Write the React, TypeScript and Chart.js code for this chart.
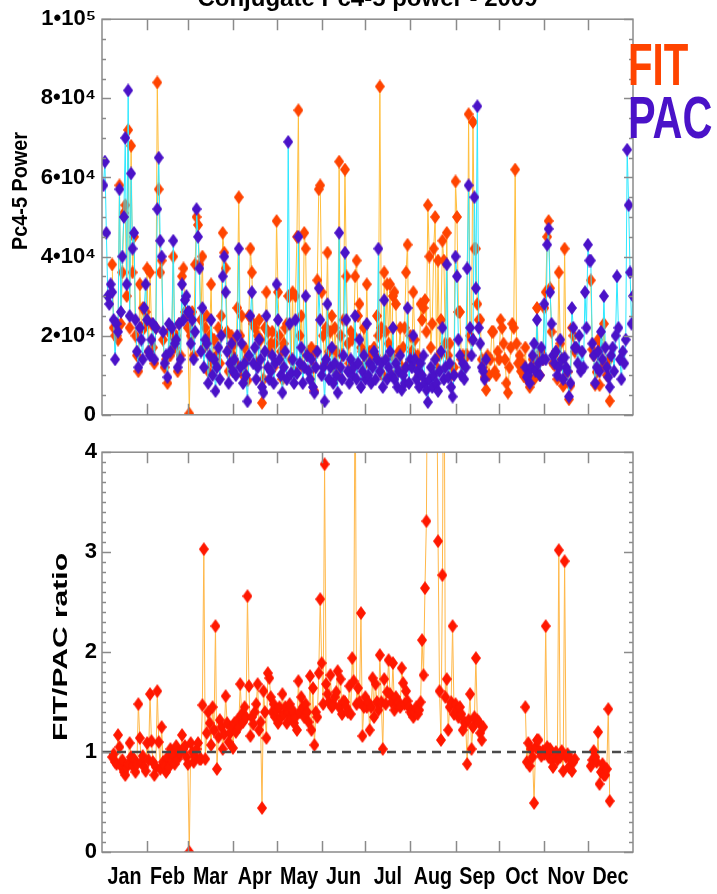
import React, { useEffect, useRef } from "react";
import { Chart, registerables } from "chart.js";

Chart.register(...registerables);

// ---------- categories / ticks ----------
const MONTHS = ["Jan", "Feb", "Mar", "Apr", "May", "Jun", "Jul", "Aug", "Sep", "Oct", "Nov", "Dec"];
const MONTH_STARTS = [0, 31, 59, 90, 120, 151, 181, 212, 243, 273, 304, 334, 365];
const POWER_TICKS = [0, 20000, 40000, 60000, 80000, 100000];
const RATIO_TICKS = [0, 1, 2, 3, 4];
const TITLE = "Conjugate Pc4-5 power - 2009";

const n = null;

// ---------- PAC Pc4-5 power, daily, in units of 1e3 (day 1..365) ----------
const PAC_K: (number | null)[] = [
  58, 64, 46, 30, 28, 33, 31, 24, 14, 23, 21, 57, 26, 40, 50, 70, 33, 82, 25, 61, 42, 46, 24, 16, 12, 22, 19, 14, 27, 33, 24, // Jan
  16, 15, 19, 23, 14, 22, 52, 65, 44, 40, 21, 13, 15, 9.5, 23, 16, 22, 44, 18, 19, 12, 23, 14, 33, 24, 29, 30, 26, // Feb
  26, 18, 24, 14, 21, 52, 45, 37, 16, 27, 12, 19, 18, 8, 15, 24, 10, 14, 6, 12, 17, 9, 20, 35, 40, 31, 16, 8, 13, 18, 11, // Mar
  14, 10, 20, 42, 12, 18, 8, 13, 10, 3.4, 15, 25, 31, 13, 17, 9, 12, 19, 14, 7, 5.6, 16, 25, 12, 9, 11, 15, 8, 13, 33, // Apr
  24, 14, 10, 5.6, 12, 16, 9, 69, 23, 10.5, 14, 8, 24, 10.5, 45, 13, 17, 8, 12, 30, 15, 11, 9, 14, 7, 5.6, 12, 16, 32, 24, 10, // May
  12, 3.4, 14, 28, 9, 12, 17, 8, 13, 10, 5.6, 46, 12, 9, 15, 41, 24, 11, 8, 14, 10, 12, 25, 9, 13, 19, 7, 11, 15, 9, // Jun
  23, 10, 13, 8, 12, 16, 9, 14, 42, 11, 13, 7, 29, 14, 9, 12, 16, 10, 22, 9, 13, 7, 11, 15, 6.3, 10, 8, 12, 27, 8, 14, // Jul
  12, 20, 14, 9, 11, 7, 13, 10, 15, 8, 6.3, 3.2, 9, 12, 7, 10, 14, 8, 6, 11, 16, 22, 9, 12, 38, 9.5, 13, 7, 4.6, 10, 40, // Aug
  35, 19, 15, 10, 13, 9, 12, 37, 58, 22, 15, 19, 55, 32, 78, 22, 18, 12, 11, 9, 14, n, n, n, n, n, n, n, n, n, // Sep
  n, n, n, n, n, n, n, n, n, n, n, n, n, n, n, n, n, 12, 9.5, 10, 8, 12, 15, 18, 11, 24, 13, 10, 17, 14, 28, // Oct
  14, 43, 47, 31, 23, 15, 13, 16, 10, 12, 19, 14, 9, 14.5, 12, 11, 4.6, 8, 27, 22, 17, 17, 13, 20, 11, 16, 12, 31, 22, 43, // Nov
  39, 39, 18, 15, 8, 12, 16, 11, 21, 14, 30, 17, 12, 9.5, 7, 15, 17, 11, 20, 35, 22, 14, 9, 16, 13, 19, 67, 53, 36, 23, 30, // Dec
];

// ---------- FIT Pc4-5 power, daily, in units of 1e3 ----------
const FIT_K: (number | null)[] = [
  n, n, n, n, n, n, 38, 22, 20, 20, 19, 58, 23, 36, 51, 53, 30, 72, 22, 68, 36, 45, 20, 15, 11, 33, 22, 27, 22, 26, 37, // Jan
  16, 36, 23, 17, 13, 22, 84, 57, 36, 39, 19, 12, 14, 8, 21, 15, 20, 40, 17, 20, 11, 23, 15, 35, 37, 26, 25, 22, // Feb
  0.3, 20, 26, 15, 38, 50, 48, 38, 24, 40, 17, 22, 25, 11, 20, 33, 13, 19, 14, 15, 22, 13, 25, 46, 41, 37, 21, 11, 17, 20, 15, // Mar
  18, 13, 27, 55, 20, 25, 10, 17, 14, 8.7, 25, 42, 36, 23, 22, 13, 20, 24, 19, 3, 9, 22, 31, 21, 16, 18, 21, 12, 18, 49, // Apr
  31, 20, 16, 9, 18, 22, 23, 30, 30, 14, 31, 11, 30, 45, 77, 20, 25, 12, 46, 42, 15, 16, 15, 17, 12, 6, 16, 34, 57, 58, 31, // May
  20, 13, 22, 41, 16, 21, 25, 12, 22, 16, 10, 64, 20, 15, 24, 62, 35, 18, 13, 21, 19, 20, 35, 39, 25, 28, 17, 16, 22, 13, // Jun
  33, 15, 16, 14, 16, 17, 15, 25, 20, 83, 22, 10, 36, 21, 33, 18, 33, 15, 30, 31, 28, 11, 16, 22, 12, 17, 22, 36, 43, 13, 20, // Jul
  16, 31, 19, 13, 15, 10, 28, 24, 27, 29, 21, 53, 40, 17, 23, 42, 50, 12, 39, 15, 24, 44, 39, 18, 46, 15, 18, 10, 10.5, 12, 59, // Aug
  50, 26, 26, 14, 15, 12, 15, 15, 76, 20, 19, 74, 42, 42, 28, 24, 24, 14, 12, 9.5, 6.3, 15, 10, 14, 21, 21, 11, 10, 16, 14, // Sep
  24, 22, 18, 14, 8, 5.6, 12, 17, 23, 22, 62, 18, 13, 15, 11, 13, 9.7, 17, 9, 11, 7, 12, 14, 9, 12, 27, 14, 10, 16, 14, 27, // Oct
  31, 45, 49, 32, 21, 13, 12.5, 16, 9, 36, 18, 14, 7.3, 42, 11.4, 10.8, 3.9, 7.4, 22, 20, 16, n, n, n, n, n, n, n, n, n, // Nov
  n, 34, 16.5, 15, 7.6, 10.8, 19, 7.5, 17, 12.3, 23, 13, 10, 13.6, 3.5, n, n, n, n, n, n, n, n, n, n, n, n, n, n, n, n, // Dec
];

// ---------- FIT/PAC ratio, daily ----------
const RATIO: (number | null)[] = [
  n, n, n, n, n, n, 0.95, 0.98, 0.9, 0.88, 1.17, 1.05, 0.86, 0.92, 0.8, 0.77, 0.85, 0.88, 1.09, 0.95, 0.86, 0.93, 0.8, 0.88, 1.48, 1.14, 0.9, 0.96, 0.85, 0.81, 1.09, // Jan
  0.92, 1.58, 1.11, 0.9, 0.77, 0.85, 1.61, 1.1, 0.83, 1.25, 0.9, 0.86, 0.8, 0.95, 0.85, 1.03, 0.92, 0.98, 0.88, 1.06, 0.93, 1.0, 0.99, 1.17, 1.03, 1.06, 0.95, 0.88, // Feb
  0.0, 1.09, 1.0, 0.9, 0.95, 1.03, 1.09, 0.93, 0.93, 1.47, 3.03, 0.93, 1.19, 1.4, 1.29, 1.07, 1.45, 1.22, 2.26, 0.83, 1.15, 1.32, 1.25, 1.03, 1.18, 1.56, 1.29, 1.1, 1.19, 1.25, 1.04, // Mar
  1.29, 1.2, 1.32, 1.25, 1.68, 1.38, 1.3, 1.45, 1.35, 2.56, 1.66, 1.16, 1.35, 1.28, 1.4, 1.48, 1.68, 1.22, 1.3, 0.44, 1.61, 1.4, 1.14, 1.79, 1.74, 1.55, 1.4, 1.48, 1.35, 1.42, // Apr
  1.29, 1.45, 1.35, 1.58, 1.38, 1.45, 1.29, 1.4, 1.48, 1.35, 1.42, 1.29, 1.35, 1.22, 1.71, 1.4, 1.55, 1.45, 1.35, 1.48, 1.4, 1.3, 1.76, 1.22, 1.64, 1.07, 1.4, 1.35, 1.79, 2.53, 1.89, // May
  1.48, 3.88, 1.68, 1.58, 1.5, 1.77, 1.45, 1.48, 1.55, 1.6, 1.81, 1.45, 1.73, 1.38, 1.51, 1.5, 1.45, 1.4, 1.66, 1.38, 1.94, 1.71, 5.0, 1.48, 1.64, 1.5, 2.39, 1.16, 1.45, 1.55, // Jun
  1.45, 1.5, 1.22, 1.45, 1.74, 1.35, 1.68, 1.5, 1.42, 1.97, 1.5, 1.03, 1.73, 1.48, 1.6, 1.92, 1.58, 1.5, 1.89, 1.42, 1.55, 1.48, 1.5, 1.45, 1.84, 1.69, 1.48, 1.61, 1.51, 1.45, 1.4, // Jul
  1.38, 1.35, 1.4, 1.45, 1.38, 1.42, 1.5, 2.12, 1.77, 2.64, 3.31, 6.0, 8.0, 5.5, 7.0, 9.0, 6.5, 5.0, 3.11, 1.61, 1.12, 2.77, 6.0, 1.55, 1.73, 1.22, 1.45, 1.5, 2.26, 1.38, 1.48, // Aug
  1.42, 1.35, 1.45, 1.38, 1.22, 1.3, 1.29, 0.88, 1.32, 1.58, 1.03, 1.25, 1.35, 1.94, 1.32, 1.3, 1.19, 1.12, 1.25, n, n, n, n, n, n, n, n, n, n, n, // Sep
  n, n, n, n, n, n, n, n, n, n, n, n, n, n, n, n, n, 1.45, 0.9, 1.09, 0.86, 1.03, 0.95, 0.49, 1.05, 1.12, 1.12, 1.0, 0.96, 1.01, 0.98, // Oct
  2.26, 1.05, 0.95, 1.03, 0.92, 0.85, 0.96, 1.0, 0.92, 3.02, 0.95, 1.01, 0.81, 2.91, 0.95, 0.98, 0.85, 0.93, 0.81, 0.9, 0.93, n, n, n, n, n, n, n, n, n, // Nov
  n, 0.86, 0.92, 1.01, 0.95, 0.9, 1.2, 0.68, 0.8, 0.88, 0.77, 0.77, 0.83, 1.43, 0.51, n, n, n, n, n, n, n, n, n, n, n, n, n, n, n, n, // Dec
];

// ---------- styles ----------
const FONT = "'Liberation Sans', Arial, Helvetica, sans-serif";
const FIT_COLOR = "#ff4400";
const PAC_COLOR = "#4a12c8";
const RATIO_COLOR = "#ff1800";
const FIT_LINE = "#ffbe3c";
const PAC_LINE = "#2ee8ff";
const RATIO_LINE = "#ffb84a";
const FRAME = "#8a8a8a";

function diamond(color: string, w = 10, h = 14): HTMLCanvasElement {
  const c = document.createElement("canvas");
  c.width = w;
  c.height = h;
  const ctx = c.getContext("2d")!;
  ctx.fillStyle = color;
  ctx.beginPath();
  ctx.moveTo(w / 2, 0);
  ctx.lineTo(w, h / 2);
  ctx.lineTo(w / 2, h);
  ctx.lineTo(0, h / 2);
  ctx.closePath();
  ctx.fill();
  return c;
}

function toPoints(vals: (number | null)[], mult: number) {
  return vals.map((v, i) => ({ x: i + 1, y: v === null ? null : v * mult }));
}

function powerLabel(v: number): string {
  if (v === 0) return "0";
  if (v === 100000) return "1\u202210\u2075";
  return `${v / 10000}\u202210\u2074`;
}

function drawFrame(chart: any, majors: number[], minorStep: number) {
  const { ctx, chartArea: a, scales } = chart;
  const xs = scales.x;
  const ys = scales.y;
  ctx.save();
  ctx.strokeStyle = FRAME;
  ctx.lineWidth = 1.5;
  ctx.strokeRect(a.left, a.top, a.right - a.left, a.bottom - a.top);
  ctx.beginPath();
  for (const d of MONTH_STARTS.slice(1, -1)) {
    const px = Math.round(xs.getPixelForValue(d)) + 0.5;
    ctx.moveTo(px, a.bottom);
    ctx.lineTo(px, a.bottom - 11);
    ctx.moveTo(px, a.top);
    ctx.lineTo(px, a.top + 11);
  }
  for (const v of majors) {
    const py = Math.round(ys.getPixelForValue(v)) + 0.5;
    ctx.moveTo(a.left, py);
    ctx.lineTo(a.left + 9, py);
    ctx.moveTo(a.right, py);
    ctx.lineTo(a.right - 9, py);
  }
  const lo = majors[0];
  const hi = majors[majors.length - 1];
  for (let v = lo; v <= hi + 1e-9; v += minorStep) {
    const py = Math.round(ys.getPixelForValue(v)) + 0.5;
    ctx.moveTo(a.left, py);
    ctx.lineTo(a.left + 4, py);
    ctx.moveTo(a.right, py);
    ctx.lineTo(a.right - 4, py);
  }
  ctx.stroke();
  ctx.restore();
}

function drawVText(ctx: CanvasRenderingContext2D, text: string, cx: number, cy: number, size: number, stretch: number) {
  ctx.save();
  ctx.translate(cx, cy);
  ctx.rotate(-Math.PI / 2);
  ctx.scale(stretch, 1);
  ctx.font = `bold ${size}px ${FONT}`;
  ctx.fillStyle = "#000";
  ctx.textAlign = "center";
  ctx.textBaseline = "middle";
  ctx.fillText(text, 0, 0);
  ctx.restore();
}

function drawWord(ctx: CanvasRenderingContext2D, text: string, x: number, y: number, color: string, sx: number) {
  ctx.save();
  ctx.translate(x, y);
  ctx.scale(sx, 1);
  ctx.font = `bold 60px ${FONT}`;
  ctx.fillStyle = color;
  ctx.textAlign = "left";
  ctx.textBaseline = "alphabetic";
  ctx.fillText(text, 0, 0);
  ctx.restore();
}

const topDecor = {
  id: "topDecor",
  afterDraw(chart: any) {
    const ctx = chart.ctx as CanvasRenderingContext2D;
    drawFrame(chart, POWER_TICKS, 5000);
    ctx.save();
    ctx.font = `bold 24px ${FONT}`;
    ctx.fillStyle = "#000";
    ctx.textAlign = "center";
    ctx.textBaseline = "alphabetic";
    const a = chart.chartArea;
    ctx.fillText(TITLE, (a.left + a.right) / 2, 6);
    ctx.restore();
    drawWord(ctx, "FIT", 628, 85, FIT_COLOR, 0.67);
    drawWord(ctx, "PAC", 628, 138, PAC_COLOR, 0.69);
    drawVText(ctx, "Pc4-5 Power", 21, 191, 22, 0.9);
  },
};

const bottomDecor = {
  id: "bottomDecor",
  afterDatasetsDraw(chart: any) {
    const { ctx, chartArea: a, scales } = chart;
    const py = scales.y.getPixelForValue(1);
    ctx.save();
    ctx.strokeStyle = "#4a4a4a";
    ctx.lineWidth = 2.5;
    ctx.setLineDash([9, 6]);
    ctx.beginPath();
    ctx.moveTo(a.left, py);
    ctx.lineTo(a.right, py);
    ctx.stroke();
    ctx.restore();
  },
  afterDraw(chart: any) {
    const ctx = chart.ctx as CanvasRenderingContext2D;
    const a = chart.chartArea;
    const xs = chart.scales.x;
    drawFrame(chart, RATIO_TICKS, 0.1);
    drawVText(ctx, "FIT/PAC ratio", 61, 213, 21, 1.43);
    // month labels, centred between month boundaries (condensed bold, as in the original)
    MONTHS.forEach((m, i) => {
      const cx = xs.getPixelForValue((MONTH_STARTS[i] + MONTH_STARTS[i + 1]) / 2);
      ctx.save();
      ctx.translate(cx, a.bottom + 25);
      ctx.scale(0.82, 1);
      ctx.font = `bold 24px ${FONT}`;
      ctx.fillStyle = "#000";
      ctx.textAlign = "center";
      ctx.textBaseline = "middle";
      ctx.fillText(m, 0, 0);
      ctx.restore();
    });
  },
};

export default function App() {
  const topRef = useRef<HTMLCanvasElement | null>(null);
  const botRef = useRef<HTMLCanvasElement | null>(null);

  useEffect(() => {
    const fitImg = diamond(FIT_COLOR);
    const pacImg = diamond(PAC_COLOR);
    const ratioImg = diamond(RATIO_COLOR);

    const top = new Chart(topRef.current!, {
      type: "line",
      data: {
        datasets: [
          {
            label: "PAC",
            data: toPoints(PAC_K, 1000) as any,
            borderColor: PAC_LINE,
            borderWidth: 1,
            pointStyle: pacImg as any,
            pointRadius: 5,
            pointHoverRadius: 5,
            order: 0,
            tension: 0,
          },
          {
            label: "FIT",
            data: toPoints(FIT_K, 1000) as any,
            borderColor: FIT_LINE,
            borderWidth: 1,
            pointStyle: fitImg as any,
            pointRadius: 5,
            pointHoverRadius: 5,
            order: 1,
            tension: 0,
          },
        ],
      },
      options: {
        animation: false,
        responsive: false,
        events: [],
        layout: { padding: { left: 0, right: 84, top: 15, bottom: 8 } },
        plugins: { legend: { display: false }, tooltip: { enabled: false }, title: { display: false } },
        scales: {
          x: { type: "linear", min: 0, max: 365, display: false },
          y: {
            type: "linear",
            min: 0,
            max: 100000,
            afterFit: (s: any) => {
              s.width = 102;
            },
            grid: { display: false, drawTicks: false },
            border: { display: false },
            ticks: {
              stepSize: 20000,
              padding: 6,
              color: "#000",
              font: { family: FONT, size: 22, weight: "bold" },
              callback: (v: any) => powerLabel(Number(v)),
            },
          },
        },
      } as any,
      plugins: [topDecor],
    });

    const bottom = new Chart(botRef.current!, {
      type: "line",
      data: {
        datasets: [
          {
            label: "FIT/PAC ratio",
            data: toPoints(RATIO, 1) as any,
            borderColor: RATIO_LINE,
            borderWidth: 1,
            pointStyle: ratioImg as any,
            pointRadius: 5,
            pointHoverRadius: 5,
            tension: 0,
          },
        ],
      },
      options: {
        animation: false,
        responsive: false,
        events: [],
        layout: { padding: { left: 0, right: 84, top: 8, bottom: 0 } },
        plugins: { legend: { display: false }, tooltip: { enabled: false }, title: { display: false } },
        scales: {
          x: {
            type: "linear",
            min: 0,
            max: 365,
            afterFit: (s: any) => {
              s.height = 42;
            },
            grid: { display: false, drawTicks: false },
            border: { display: false },
            ticks: { display: false },
          },
          y: {
            type: "linear",
            min: 0,
            max: 4,
            afterFit: (s: any) => {
              s.width = 102;
            },
            grid: { display: false, drawTicks: false },
            border: { display: false },
            ticks: {
              stepSize: 1,
              padding: 5,
              color: "#000",
              font: { family: FONT, size: 22, weight: "bold" },
            },
          },
        },
      } as any,
      plugins: [bottomDecor],
    });

    return () => {
      top.destroy();
      bottom.destroy();
    };
  }, []);

  return (
    <div style={{ position: "absolute", left: 0, top: 0, width: 717, height: 894, background: "#fff" }}>
      <canvas ref={topRef} width={717} height={434} style={{ display: "block", position: "absolute", left: 0, top: 0 }} />
      <canvas ref={botRef} width={717} height={460} style={{ display: "block", position: "absolute", left: 0, top: 434 }} />
    </div>
  );
}
